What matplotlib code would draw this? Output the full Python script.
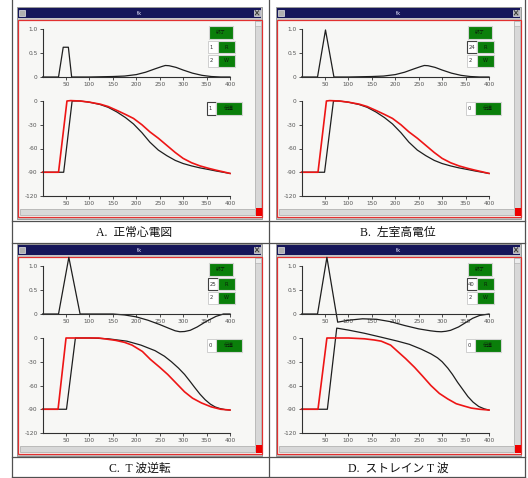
import matplotlib.pyplot as plt
from matplotlib.patches import Rectangle

# 心電図 (上段) と活動電位 (下段) : 4 パネル分
captions = ['A.  正常心電図', 'B.  左室高電位', 'C.  T 波逆転', 'D.  ストレイン T 波']
entry_r = ['1', '24', '25', '40']
entry_w = ['2', '2', '2', '2']
entry_c = ['1', '0', '0', '0']
focus_top = [False, True, True, True]
focus_bottom = [True, False, False, False]

xticks = [50, 100, 150, 200, 250, 300, 350, 400]

# A. 正常心電図
ecg_a_t = [0, 34, 44, 55, 62, 100, 150, 175, 200, 220, 240, 255, 262, 270, 285, 300, 320, 340, 360, 380, 400]
ecg_a_v = [0, 0, 0.62, 0.62, 0, 0, 0.01, 0.02, 0.05, 0.1, 0.17, 0.22, 0.24, 0.235, 0.2, 0.145, 0.08, 0.035, 0.01, 0, 0]
red_a_t = [0, 34, 52, 60, 80, 100, 123, 140, 159, 177, 194, 212, 229, 247, 265, 283, 300, 318, 336, 354, 371, 386, 400]
red_a_v = [-90, -90, 0, 0.5, 0, -1.5, -4, -7, -12, -17, -22, -30, -39, -47, -56, -65, -72.5, -78, -82, -85, -87.5, -89.5, -91.5]
blk_a_t = [0, 45, 63, 80, 100, 123, 140, 159, 177, 194, 212, 229, 247, 265, 283, 300, 318, 336, 354, 371, 400]
blk_a_v = [-90, -90, 0, 0, -1.5, -4.5, -8, -14, -21, -29, -40, -52, -62, -69, -75, -79, -82, -84.5, -86.5, -88.5, -91.5]

# B. 左室高電位
ecg_b_t = [0, 34, 51, 69, 100, 150, 175, 200, 220, 240, 255, 262, 270, 285, 300, 320, 340, 360, 380, 400]
ecg_b_v = [0, 0, 0.98, 0, 0, 0.01, 0.02, 0.05, 0.1, 0.17, 0.22, 0.24, 0.235, 0.2, 0.145, 0.08, 0.035, 0.01, 0, 0]
red_b_t = [0, 35, 53, 60, 80, 100, 123, 140, 159, 177, 194, 212, 229, 247, 265, 283, 300, 318, 336, 354, 371, 386, 400]
red_b_v = [-90, -90, 0, 0.5, 0, -1.5, -4, -7, -12, -17, -22, -30, -39, -47, -56, -65, -72.5, -78, -82, -85, -87.5, -89.5, -91.5]
blk_b_t = [0, 49, 68, 80, 100, 123, 140, 159, 177, 194, 212, 229, 247, 265, 283, 300, 318, 336, 354, 371, 400]
blk_b_v = [-90, -90, 0, 0, -1.5, -4.5, -8, -14, -21, -29, -40, -52, -62, -69, -75, -79, -82, -84.5, -86.5, -88.5, -91.5]

# C. T 波逆転
ecg_c_t = [0, 34, 56, 80, 100, 150, 175, 200, 225, 250, 270, 283, 293, 303, 315, 330, 350, 370, 386, 400]
ecg_c_v = [0, 0, 1.18, 0, 0, 0, -0.02, -0.06, -0.13, -0.22, -0.3, -0.35, -0.37, -0.365, -0.34, -0.27, -0.15, -0.05, 0, 0]
red_c_t = [0, 33, 50, 80, 120, 156, 175, 191, 213, 230, 250, 267, 285, 303, 320, 339, 360, 380, 400]
red_c_v = [-90, -90, 0, 0, 0, -3, -5.5, -9, -17, -27, -37, -46, -57, -68, -76, -82, -87, -90, -91]
blk_c_t = [0, 51, 70, 100, 140, 180, 210, 240, 260, 275, 290, 303, 315, 324, 336, 347, 358, 368, 378, 390, 400]
blk_c_v = [-90, -90, 0, 0, -1, -4, -9, -16, -23, -30, -38, -46, -55, -62, -71, -78, -83.5, -87, -89, -90.5, -91]

# D. ストレイン T 波
ecg_d_t = [0, 34, 54, 77, 100, 130, 160, 190, 220, 250, 275, 288, 298, 308, 318, 335, 350, 365, 380, 400]
ecg_d_v = [0, 0, 1.18, -0.17, -0.13, -0.1, -0.11, -0.16, -0.24, -0.31, -0.35, -0.365, -0.37, -0.36, -0.34, -0.27, -0.18, -0.09, -0.03, 0]
red_d_t = [0, 35, 54, 100, 134, 155, 170, 190, 205, 222, 241, 258, 276, 294, 312, 330, 347, 362, 380, 400]
red_d_v = [-90, -90, 0, 0, -1, -2.5, -4, -9, -17, -26, -37, -48, -60, -70, -77, -83, -86, -88.5, -90, -91]
blk_d_t = [0, 55, 75, 100, 134, 170, 205, 230, 255, 276, 290, 300, 312, 322, 333, 344, 355, 366, 378, 390, 400]
blk_d_v = [-90, -90, 12.5, 10, 6, 1, -4, -8, -14, -20, -25, -30, -38, -46, -56, -65, -74, -81, -86.5, -89.5, -91]

ecg_t = [ecg_a_t, ecg_b_t, ecg_c_t, ecg_d_t]
ecg_v = [ecg_a_v, ecg_b_v, ecg_c_v, ecg_d_v]
red_t = [red_a_t, red_b_t, red_c_t, red_d_t]
red_v = [red_a_v, red_b_v, red_c_v, red_d_v]
blk_t = [blk_a_t, blk_b_t, blk_c_t, blk_d_t]
blk_v = [blk_a_v, blk_b_v, blk_c_v, blk_d_v]

W, H = 528, 478
fig = plt.figure(figsize=(W / 100, H / 100), dpi=100)
bg = fig.add_axes([0, 0, 1, 1])
bg.set_xlim(0, W)
bg.set_ylim(H, 0)
bg.axis('off')

jp = ['DejaVu Sans', 'Noto Sans CJK JP']


def box(x0, y0, x1, y1, **kw):
    bg.add_patch(Rectangle((x0, y0), x1 - x0, y1 - y0, **kw))


def px_axes(x0, y0, x1, y1):
    ax = fig.add_axes([x0 / W, 1 - y1 / H, (x1 - x0) / W, (y1 - y0) / H])
    ax.set_facecolor('none')
    return ax


def button(x0, y0, x1, y1, label):
    box(x0, y0, x1, y1, fc='#0a7f0a', ec='#d4d4d4', lw=0.8)
    bg.text((x0 + x1) / 2, (y0 + y1) / 2 + 0.3, label, fontsize=3.6, color='#0a200a',
            ha='center', va='center', family=jp)


def entry(x0, y0, x1, y1, label, focus=False):
    box(x0, y0, x1, y1, fc='white', ec='#404040' if focus else '#c8c8c8', lw=0.8 if focus else 0.6)
    bg.text(x0 + 1.2, (y0 + y1) / 2 + 0.3, label, fontsize=3.8, color='#333', ha='left', va='center')


def style_axes(ax, ymin, yticks, ylabels):
    ax.set_xlim(0, 400)
    for s in ['top', 'right']:
        ax.spines[s].set_visible(False)
    ax.spines['bottom'].set_position(('data', ymin))
    ax.spines['bottom'].set_bounds(0, 400)
    for s in ['left', 'bottom']:
        ax.spines[s].set_color('#303030')
        ax.spines[s].set_linewidth(0.8)
    ax.set_xticks(xticks)
    ax.set_xticklabels([str(t) for t in xticks])
    ax.set_yticks(yticks)
    ax.set_yticklabels(ylabels)
    ax.tick_params(length=2, width=0.6, labelsize=4.2, pad=1.5, colors='#303030', labelcolor='#555555')


origins = [(17, 7), (276, 7), (17, 244), (276, 244)]

for i, (ox, oy) in enumerate(origins):
    # ウィンドウ枠
    box(ox, oy, ox + 245, oy + 212, fc='#c6c6c6', ec='#8c8c8c', lw=0.6)
    box(ox + 1, oy + 1, ox + 244, oy + 11, fc='#16165a', ec='none')
    box(ox + 2, oy + 2.5, ox + 8, oy + 9, fc='#b0b0b0', ec='#e8e8e8', lw=0.5)
    box(ox + 237, oy + 2.5, ox + 243, oy + 9, fc='#b0b0b0', ec='#e8e8e8', lw=0.5)
    bg.plot([ox + 238.2, ox + 241.8], [oy + 3.6, oy + 7.9], color='#303030', lw=0.6)
    bg.plot([ox + 238.2, ox + 241.8], [oy + 7.9, oy + 3.6], color='#303030', lw=0.6)
    bg.text(ox + 122, oy + 6, 'tk', color='#e8e8ff', fontsize=3.8, ha='center', va='center')
    box(ox + 1, oy + 13, ox + 245, oy + 210, fc='#f7f7f5', ec='#e23030', lw=0.9)
    box(ox + 238, oy + 14, ox + 244, oy + 201, fc='#d8d8d8', ec='#a8a8a8', lw=0.5)
    box(ox + 238, oy + 14, ox + 244, oy + 19, fc='#ececec', ec='#a8a8a8', lw=0.4)
    box(ox + 3, oy + 202, ox + 238, oy + 208, fc='#d8d8d8', ec='#a8a8a8', lw=0.5)
    box(ox + 239, oy + 201, ox + 245, oy + 209, fc='#ee0000', ec='none')

    # ボタン類
    button(ox + 192, oy + 19, ox + 216, oy + 32, '終了')
    entry(ox + 191, oy + 34, ox + 201, oy + 46, entry_r[i], focus_top[i])
    button(ox + 201, oy + 34, ox + 218, oy + 46, 'R')
    entry(ox + 191, oy + 47.5, ox + 201, oy + 59.5, entry_w[i])
    button(ox + 201, oy + 47.5, ox + 218, oy + 59.5, 'W')
    entry(ox + 190, oy + 95, ox + 199, oy + 108, entry_c[i], focus_bottom[i])
    button(ox + 199, oy + 95, ox + 225, oy + 108, '伝導')

    # 上段: 心電図
    top = px_axes(ox + 25.6, oy + 70 - 1.3 * 48, ox + 213, oy + 70 + 0.5 * 48)
    top.set_ylim(-0.5, 1.3)
    top.plot(ecg_t[i], ecg_v[i], color='#1e1e1e', lw=0.9, clip_on=False)
    style_axes(top, 0, [0, 0.5, 1.0], ['0', '0.5', '1.0'])
    top.spines['left'].set_bounds(0, 1.0)

    # 下段: 活動電位
    k = 95 / 120
    low = px_axes(ox + 25.6, oy + 94 - 16 * k, ox + 213, oy + 189 + 5 * k)
    low.set_ylim(-125, 16)
    low.plot(blk_t[i], blk_v[i], color='#1e1e1e', lw=0.9, clip_on=False)
    low.plot(red_t[i], red_v[i], color='#ee1515', lw=1.2, clip_on=False)
    style_axes(low, -120, [-120, -90, -60, -30, 0], ['-120', '-90', '-60', '-30', '0'])
    low.spines['left'].set_bounds(-120, 0)

# 表の罫線
lc = '#505050'
for x in [12, 269, 525]:
    bg.plot([x, x], [0, 478], color=lc, lw=0.9)
for y in [221, 243, 457, 477]:
    bg.plot([12, 525], [y, y], color=lc, lw=0.9)

cap_xy = [(134, 233), (398, 233), (140, 469), (398, 469)]
for (cx, cy), c in zip(cap_xy, captions):
    bg.text(cx, cy, c, fontsize=8.5, ha='center', va='center', color='#111',
            family=['Liberation Serif', 'Noto Sans CJK JP'])

fig.savefig('out.png', dpi=100)
